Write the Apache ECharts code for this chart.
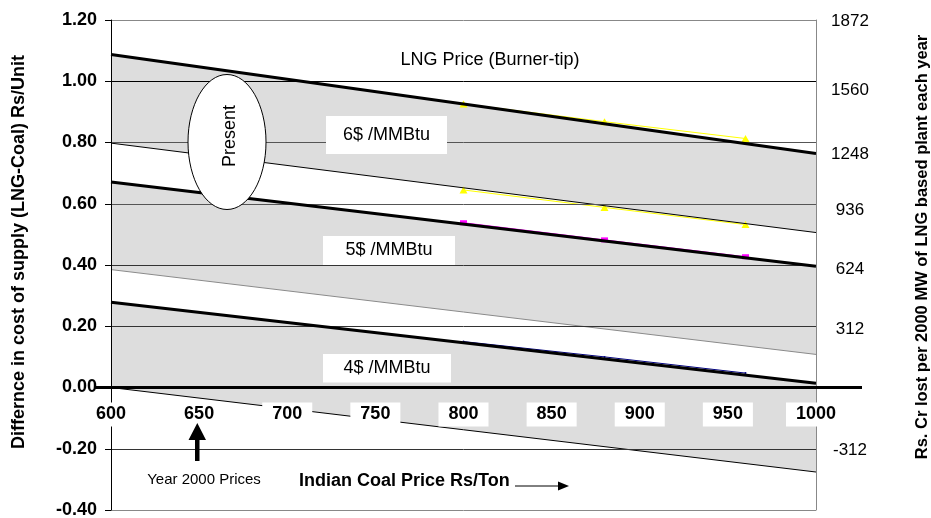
<!DOCTYPE html>
<html><head><meta charset="utf-8">
<script src="https://cdn.jsdelivr.net/npm/echarts@6/dist/echarts.min.js"></script>
<style>html,body{margin:0;padding:0;background:#fff}#c{width:931px;height:518px}</style>
</head><body><div id="c"></div>
<script>
// ---- data ----
const coalPrice = [600, 1000];            // Indian coal price Rs/Ton (x)
const lng6Upper = [1.087, 0.764];
const lng6Lower = [0.798, 0.506];
const lng5Upper = [0.671, 0.396];
const lng5Lower = [0.385, 0.108];
const lng4Upper = [0.278, 0.014];
const lng4Lower = [0.000, -0.276];

const markerX = [800, 880, 960];
const yellowUpper = [0.926, 0.868, 0.813];
const yellowLower = [0.645, 0.588, 0.532];
const magentaPts = [0.538, 0.482, 0.427];
const bluePts = [0.150, 0.100, 0.047];

const rightTickLabels = [1872, 1560, 1248, 936, 624, 312, -312];
const gridLevelsTop = [1.2, 0.8, 0.6, 0.4, 0.2, -0.2, -0.4];
const gridLevelsUnder = [1.0];

const bandLabels = ['6$ /MMBtu', '5$ /MMBtu', '4$ /MMBtu'];
const titleLeft = 'Differnce in cost of supply (LNG-Coal) Rs/Unit';
const titleRight = 'Rs. Cr lost per 2000 MW of LNG based plant each year';

// ---- styles ----
const FONT = '"Liberation Sans", Arial, sans-serif';
const rightNudge = {'1872': 1, '1560': 9, '1248': 12, '936': 7, '624': 4, '312': 3, '-312': 2};
const gridStyle = {'1.2': '#888888', '0.8': '#555555', '0.6': '#555555', '0.4': '#333333', '0.2': '#333333', '-0.2': '#333333', '-0.4': '#888888', '1': '#000000'};
const richRight = {};
Object.values(rightNudge).forEach(d => { richRight['n' + d] = {padding: [2 * d, 0, 0, 0], fontSize: 17, fontFamily: FONT, color: '#000'}; });

const bands = [
  {upper: lng6Upper, lower: lng6Lower},
  {upper: lng5Upper, lower: lng5Lower},
  {upper: lng4Upper, lower: lng4Lower}
];
const pairs = (xs, ys) => xs.map((x, k) => [x, ys[k]]);

// layout
const GRID = {left: 111, right: 115, top: 20, bottom: 8};
const Y_MIN = -0.4, Y_MAX = 1.2;
const gridH = 518 - GRID.top - GRID.bottom;
const zeroOffset = -gridH * (0 - Y_MIN) / (Y_MAX - Y_MIN);   // lift x-axis from bottom to y = 0

const chart = echarts.init(document.getElementById('c'), null, {renderer: 'canvas'});

function lineSeries(arr, color, width, z) {
  return {type: 'line', data: pairs(coalPrice, arr), symbol: 'none', silent: true, animation: false,
    lineStyle: {color: color, width: width}, z: z};
}
function markSeries(vals, color, symbol, size) {
  return {type: 'line', data: pairs(markerX, vals), symbol: symbol, symbolSize: size, silent: true, animation: false,
    showSymbol: true, itemStyle: {color: color}, lineStyle: {color: color, width: 1}, z: 3};
}
function gridSeries(levels, z) {
  return {type: 'line', data: [], silent: true, animation: false, z: z,
    markLine: {silent: true, symbol: ['none', 'none'], animation: false, label: {show: false},
      data: levels.map(v => ({yAxis: v, lineStyle: {color: gridStyle[String(v)], width: 1, type: 'solid'}}))}};
}

const option = {
  animation: false,
  grid: Object.assign({containLabel: false, outerBoundsMode: 'none'}, GRID),
  xAxis: {
    type: 'value', min: 600, max: 1000, interval: 50, z: 12, position: 'bottom', offset: zeroOffset,
    axisLine: {show: true, onZero: false, lineStyle: {color: '#000', width: 3}},
    axisTick: {show: false},
    splitLine: {show: false},
    axisLabel: {fontSize: 18, fontWeight: 'bold', fontFamily: FONT, color: '#000', margin: 15,
      backgroundColor: '#fff', padding: [3, 10, 3, 10], lineHeight: 18, formatter: v => String(v)}
  },
  yAxis: [
    {type: 'value', min: Y_MIN, max: Y_MAX, interval: 0.2, position: 'left', z: 10,
      axisLine: {show: true, onZero: false, lineStyle: {color: '#000', width: 1}},
      axisTick: {show: true, inside: false, length: 6, lineStyle: {color: '#000'}},
      splitLine: {show: false},
      axisLabel: {fontSize: 18, fontWeight: 'bold', fontFamily: FONT, color: '#000', margin: 14,
        formatter: v => v.toFixed(2)}},
    {type: 'value', min: -624, max: 1872, interval: 312, position: 'right', z: 10,
      axisLine: {show: true, onZero: false, lineStyle: {color: '#888', width: 1}},
      axisTick: {show: false},
      splitLine: {show: false},
      axisLabel: {fontSize: 17, fontFamily: FONT, color: '#000', margin: 34, align: 'center',
        formatter: v => rightTickLabels.includes(v) ? '{n' + rightNudge[String(v)] + '|' + v + '}' : '',
        rich: richRight}}
  ],
  series: [
    gridSeries(gridLevelsUnder, 1),
    {type: 'custom', coordinateSystem: 'cartesian2d', silent: true, animation: false, z: 2,
      data: bands.map(b => [coalPrice[0], b.upper[0]]),
      renderItem: function (params, api) {
        const b = bands[params.dataIndex];
        const pts = [];
        coalPrice.forEach((x, k) => pts.push(api.coord([x, b.upper[k]])));
        for (let k = coalPrice.length - 1; k >= 0; k--) pts.push(api.coord([coalPrice[k], b.lower[k]]));
        return {type: 'polygon', shape: {points: pts}, style: {fill: '#dddddd', stroke: null}};
      }},
    gridSeries(gridLevelsTop, 3),
    markSeries(yellowUpper, '#ffff00', 'triangle', [8, 7]),
    markSeries(yellowLower, '#ffff00', 'triangle', [8, 7]),
    markSeries(magentaPts, '#ff00ff', 'rect', [7, 5]),
    markSeries(bluePts, '#000080', 'circle', 2),
    lineSeries(lng6Lower, '#000000', 1, 4),
    lineSeries(lng5Lower, '#8a8a8a', 1, 4),
    lineSeries(lng4Lower, '#000000', 1, 4),
    lineSeries(lng6Upper, '#000000', 3, 5),
    lineSeries(lng5Upper, '#000000', 3, 5),
    lineSeries(lng4Upper, '#000000', 3, 5)
  ]
};
chart.setOption(option);

// ---- annotations ----
const y0 = chart.convertToPixel({yAxisIndex: 0}, 0);
function txt(x, y, text, font, rot, extra) {
  return Object.assign({type: 'text', x: x, y: y, rotation: rot || 0, z: 100, silent: true,
    style: {text: text, font: font, fill: '#000', align: 'center', verticalAlign: 'middle',
      textAlign: 'center', textVerticalAlign: 'middle'}}, extra || {});
}
function box(x1, y1, x2, y2) {
  return {type: 'rect', shape: {x: x1, y: y1, width: x2 - x1, height: y2 - y1}, style: {fill: '#fff'}, z: 99, silent: true};
}
const graphics = [
  {type: 'line', shape: {x1: 95, y1: y0, x2: 862, y2: y0}, style: {stroke: '#000', lineWidth: 3}, z: 98, silent: true},
  txt(19, 252, titleLeft, 'bold 18px ' + FONT, Math.PI / 2),
  txt(922, 247, titleRight, 'bold 16.5px ' + FONT, Math.PI / 2),
  txt(490, 60, 'LNG Price (Burner-tip)', '18px ' + FONT),
  box(326, 116, 447, 154), txt(386.5, 135, bandLabels[0], '18px ' + FONT),
  box(323, 236, 455, 265), txt(389, 250.5, bandLabels[1], '18px ' + FONT),
  box(323, 354, 451, 382.5), txt(387, 368.5, bandLabels[2], '18px ' + FONT),
  {type: 'ellipse', shape: {cx: 227, cy: 142, rx: 39, ry: 67.5}, style: {fill: '#fff', stroke: '#000', lineWidth: 1}, z: 100, silent: true},
  txt(230, 136, 'Present', '18px ' + FONT, Math.PI / 2, {z: 101}),
  txt(204, 480, 'Year 2000 Prices', '15px ' + FONT),
  {type: 'polygon', shape: {points: [[195, 461], [199.5, 461], [199.5, 440], [206, 440], [197.3, 423], [188.5, 440], [195, 440]]}, style: {fill: '#000'}, z: 100, silent: true},
  txt(299, 481.5, 'Indian Coal Price Rs/Ton', 'bold 18px ' + FONT, 0, {style: {text: 'Indian Coal Price Rs/Ton', font: 'bold 18px ' + FONT, fill: '#000', align: 'left', verticalAlign: 'middle', textAlign: 'left', textVerticalAlign: 'middle'}}),
  {type: 'line', shape: {x1: 515, y1: 486, x2: 560, y2: 486}, style: {stroke: '#000', lineWidth: 1}, z: 100, silent: true},
  {type: 'polygon', shape: {points: [[558, 481.5], [569, 486], [558, 490.5]]}, style: {fill: '#000'}, z: 100, silent: true}
];
chart.setOption({graphic: {elements: graphics}});
</script>
</body></html>
